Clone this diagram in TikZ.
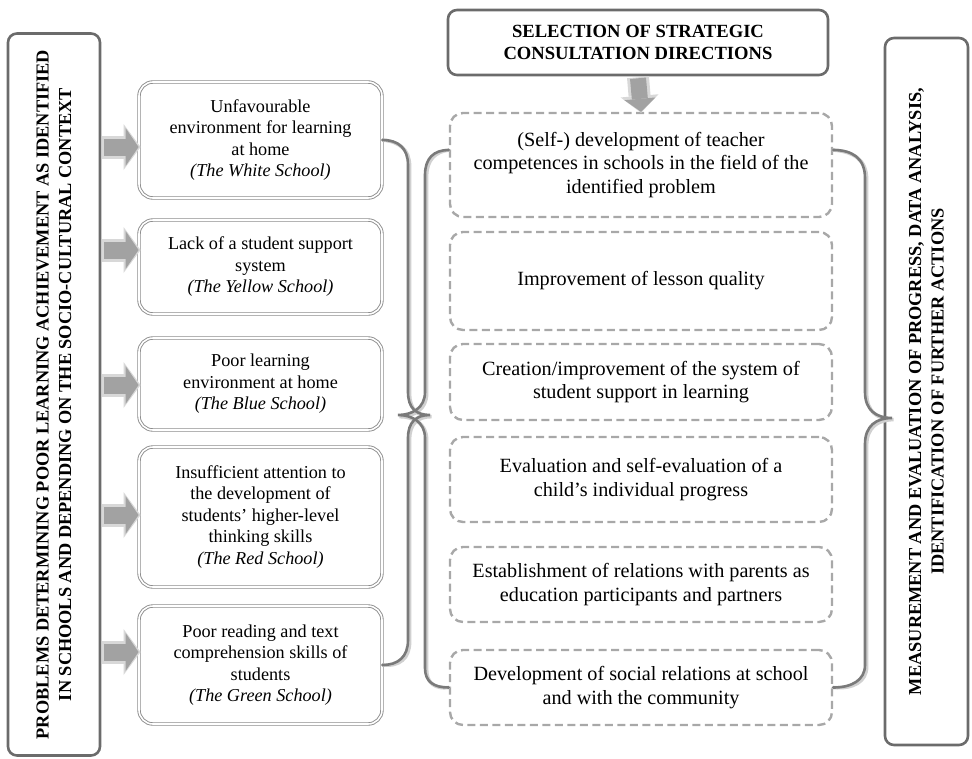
\documentclass[tikz,border=0pt]{standalone}
\usepackage{fontspec}
\setmainfont{Liberation Serif}
\usetikzlibrary{arrows.meta,calc}
\definecolor{borderdk}{HTML}{6B6B6B}
\definecolor{bracec}{HTML}{7A7A7A}
\definecolor{braceshadow}{HTML}{D0D0D0}
\definecolor{dashc}{HTML}{A8A8A8}
\definecolor{arrowc}{HTML}{A2A2A2}
\definecolor{arrowhalo}{HTML}{D8D8D8}
\definecolor{dblc}{HTML}{8C8C8C}
\begin{document}
\begin{tikzpicture}[x=1pt,y=-1pt,
  every node/.style={font=\fontsize{18.2}{21.5}\selectfont, align=center, inner sep=0pt},
  tallbox/.style={draw=borderdk, line width=2.6pt, rounded corners=9pt},
  talltext/.style={font=\bfseries\fontsize{18.3}{22.5}\selectfont, rotate=90},
  schoolbox/.style={draw=dblc, line width=0.9pt, double=white, double distance=1.6pt, rounded corners=14pt, minimum width=243pt},
  dashbox/.style={draw=dashc, line width=2.4pt, dash pattern=on 8pt off 4.5pt, rounded corners=13pt, minimum width=382pt, font=\fontsize{20.2}{23.5}\selectfont},
  arrowhaloH/.style={line width=23pt, arrowhalo, -{Triangle[width=46pt,length=17pt,line width=0pt]}},
  arrowbodyH/.style={line width=17pt, arrowc, -{Triangle[width=38pt,length=13pt,line width=0pt]}},
  arrowhaloV/.style={line width=22pt, arrowhalo, -{Triangle[width=38pt,length=17pt,line width=0pt]}},
  arrowbodyV/.style={line width=16pt, arrowc, -{Triangle[width=31pt,length=13pt,line width=0pt]}},
  bracestyle/.style={draw=bracec, line width=2.6pt, line cap=round},
  braceshade/.style={draw=braceshadow, line width=3.6pt, line cap=round}
]
\useasboundingbox (0,0) rectangle (972,758);

% tall side boxes
\node[tallbox, minimum width=92pt, minimum height=722pt] (L) at (54,394.5) {};
\node[talltext] (Ltxt) at (L.center) {PROBLEMS DETERMINING POOR LEARNING ACHIEVEMENT AS IDENTIFIED\\IN SCHOOLS AND DEPENDING ON THE SOCIO-CULTURAL CONTEXT};
\node[tallbox, minimum width=83pt, minimum height=707pt] (R) at (926.5,391.5) {};
\node[talltext] (Rtxt) at (R.center) {MEASUREMENT AND EVALUATION OF PROGRESS, DATA ANALYSIS,\\IDENTIFICATION OF FURTHER ACTIONS};

% top box
\node[tallbox, minimum width=380pt, minimum height=65pt, font=\bfseries\fontsize{18.6}{22.5}\selectfont] (T) at (638,42.5) {SELECTION OF STRATEGIC\\CONSULTATION DIRECTIONS};

% school boxes
\node[schoolbox, minimum height=116pt] (s1) at (260.5,140) {Unfavourable\\environment for learning\\at home\\\textit{(The White School)}};
\node[schoolbox, minimum height=94pt] (s2) at (260.5,267) {Lack of a student support\\system\\\textit{(The Yellow School)}};
\node[schoolbox, minimum height=92pt] (s3) at (260.5,384) {Poor learning\\environment at home\\\textit{(The Blue School)}};
\node[schoolbox, minimum height=140pt] (s4) at (260.5,517) {Insufficient attention to\\the development of\\students’ higher-level\\thinking skills\\\textit{(The Red School)}};
\node[schoolbox, minimum height=118pt] (s5) at (260.5,665) {Poor reading and text\\comprehension skills of\\students\\\textit{(The Green School)}};

% dashed direction boxes
\node[dashbox, minimum height=104pt] (d1) at (641,165) {(Self-) development of teacher\\competences in schools in the field of the\\identified problem};
\node[dashbox, minimum height=98pt] (d2) at (641,281) {Improvement of lesson quality};
\node[dashbox, minimum height=76pt] (d3) at (641,382) {Creation/improvement of the system of\\student support in learning};
\node[dashbox, minimum height=85pt] (d4) at (641,479.5) {Evaluation and self-evaluation of a\\child’s individual progress};
\node[dashbox, minimum height=75pt] (d5) at (641,584.5) {Establishment of relations with parents as\\education participants and partners};
\node[dashbox, minimum height=75pt] (d6) at (641,687.5) {Development of social relations at school\\and with the community};

% block arrows from left box to school boxes
\foreach \s/\o in {s1/7, s2/-17, s3/1, s4/-2, s5/-13}{
  \draw[arrowhaloH] ($(L.east |- \s.west)+(1,\o)$) -- ($(\s.west)+(2,\o)$);
  \draw[arrowbodyH] ($(L.east |- \s.west)+(3,\o)$) -- ($(\s.west)+(0,\o)$);
}

% down arrow
\draw[arrowhaloV] ($(T.south)+(0,1)$) -- ($(d1.north)+(0,1)$);
\draw[arrowbodyV] ($(T.south)+(0,2)$) -- (d1.north);

% braces (shadow then line)
\foreach \st/\dx in {braceshade/1.6, bracestyle/0}{
\begin{scope}[shift={(\dx,\dx)}]
  \draw[\st] (s1.east) .. controls (398,140) and (408,148) .. (408,165)
    -- (408,392) .. controls (408,408) and (416,415) .. (430,415)
    .. controls (416,415) and (408,422) .. (408,438)
    -- (408,640) .. controls (408,657) and (398,665) .. (s5.east);
  \draw[\st] ($(d1.west)+(0,-15)$) .. controls (434,150) and (425,158) .. (425,175)
    -- (425,392) .. controls (425,408) and (412,415) .. (398,415)
    .. controls (412,415) and (425,422) .. (425,438)
    -- (425,668) .. controls (425,682) and (434,687.5) .. (d6.west);
  \draw[\st] ($(d1.east)+(0,-15)$) .. controls (852,150) and (865,158) .. (865,178)
    -- (865,392) .. controls (865,410) and (876,418) .. (892,418)
    .. controls (876,418) and (865,426) .. (865,444)
    -- (865,665) .. controls (865,680) and (852,687.5) .. (d6.east);
\end{scope}
}
\end{tikzpicture}
\end{document}
